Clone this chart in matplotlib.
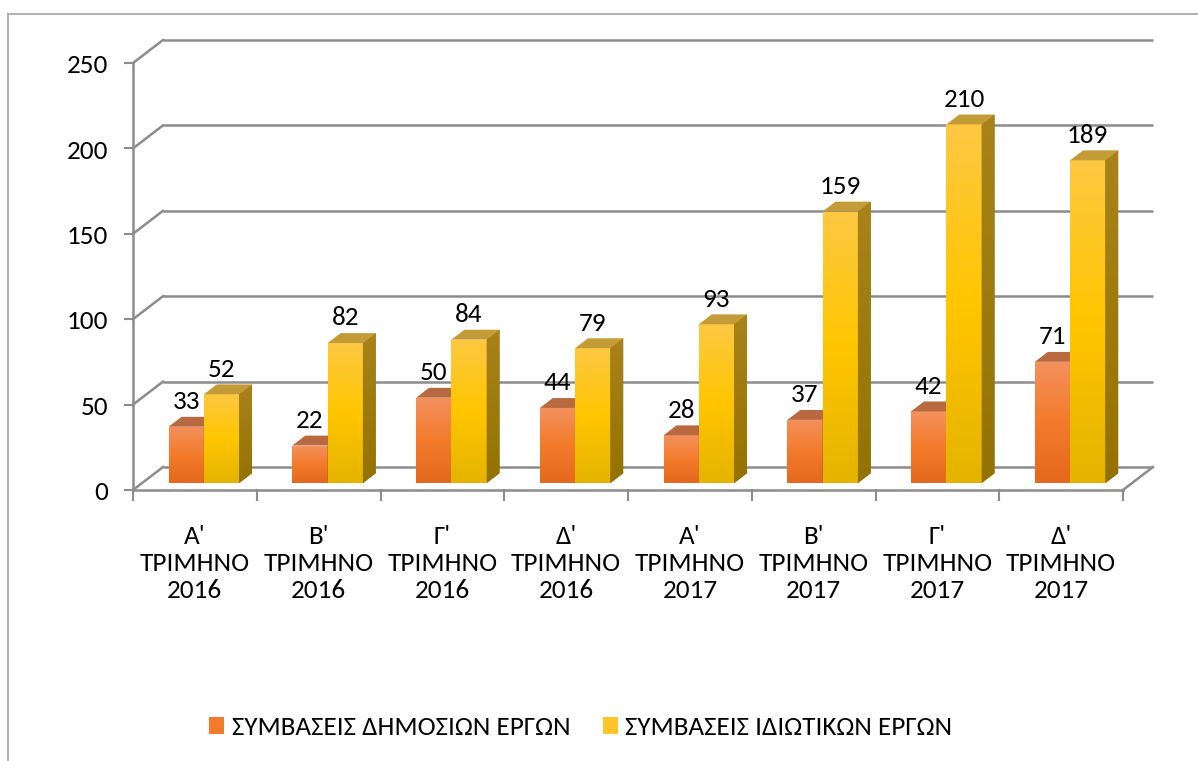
import numpy as np
import matplotlib
matplotlib.use("Agg")
import matplotlib.pyplot as plt
from matplotlib.patches import Polygon, Patch
from matplotlib.colors import LinearSegmentedColormap

# ---------------- data ----------------
categories = ["Α'\nΤΡΙΜΗΝΟ\n2016", "Β'\nΤΡΙΜΗΝΟ\n2016", "Γ'\nΤΡΙΜΗΝΟ\n2016", "Δ'\nΤΡΙΜΗΝΟ\n2016",
              "Α'\nΤΡΙΜΗΝΟ\n2017", "Β'\nΤΡΙΜΗΝΟ\n2017", "Γ'\nΤΡΙΜΗΝΟ\n2017", "Δ'\nΤΡΙΜΗΝΟ\n2017"]
public_works = [33, 22, 50, 44, 28, 37, 42, 71]
private_works = [52, 82, 84, 79, 93, 159, 210, 189]
series_names = ["ΣΥΜΒΑΣΕΙΣ ΔΗΜΟΣΙΩΝ ΕΡΓΩΝ", "ΣΥΜΒΑΣΕΙΣ ΙΔΙΩΤΙΚΩΝ ΕΡΓΩΝ"]
y_ticks = [0, 50, 100, 150, 200, 250]

plt.rcParams['font.family'] = ['Carlito', 'DejaVu Sans']
FS = 19.5

# ---------------- geometry (pixels) ----------------
W, H = 1198, 761
X0, CW = 133.0, 123.75      # x of category origin, px per category
Y0, VS = 490.0, 1.708       # y of value 0 (from top), px per unit
DXP, DYP = 30.0, 23.0       # depth offset in px
ddx, ddy = DXP / CW, DYP / VS
FD, BD = 0.30, 0.73          # bar front / back depth
BW = 0.285                   # bar width in categories

def P(x, v, d):
    return (x + d * ddx, v + d * ddy)

fig = plt.figure(figsize=(W / 100, H / 100), dpi=100)
ax = fig.add_axes([0, 0, 1, 1])
ax.set_axis_off()
XL = (-X0 / CW, (W - X0) / CW)
YL = ((Y0 - H) / VS, Y0 / VS)
ax.set_xlim(*XL)
ax.set_ylim(*YL)
ax.set_autoscale_on(False)

grid_c = '#8c8c8c'
n = len(categories)
top = y_ticks[-1]

# back wall gridlines and left wall diagonals
for t in y_ticks:
    a, b = P(0, t, 1), P(n, t, 1)
    ax.plot([a[0], b[0]], [a[1], b[1]], color=grid_c, lw=1.8, zorder=1, solid_capstyle='butt')
    a, b = P(0, t, 0), P(0, t, 1)
    ax.plot([a[0], b[0]], [a[1], b[1]], color=grid_c, lw=1.8, zorder=1)
# floor right edge
a, b = P(n, 0, 0), P(n, 0, 1)
ax.plot([a[0], b[0]], [a[1], b[1]], color=grid_c, lw=1.8, zorder=1)
# front axes
ax.plot([0, n], [0, 0], color=grid_c, lw=1.8, zorder=1)
ax.plot([0, 0], [0, top], color=grid_c, lw=1.8, zorder=1)
# ticks
for t in y_ticks:
    ax.plot([-8 / CW, 0], [t, t], color=grid_c, lw=1.5, zorder=1)
    ax.text((108 - X0) / CW, t - 6.0, str(t), ha='right', va='baseline', fontsize=FS, color='black')
for i in range(n + 1):
    ax.plot([i, i], [0, -10 / VS], color=grid_c, lw=1.5, zorder=1)
for i, lab in enumerate(categories):
    ax.text(i + 0.5, -108 / VS, lab, ha='center', va='baseline', fontsize=FS,
            linespacing=1.2, color='black', zorder=20)

# colours
front_cmaps = [
    LinearSegmentedColormap.from_list('o', ['#e4681d', '#f47b2b', '#f3915e']),
    LinearSegmentedColormap.from_list('y', ['#e5b300', '#ffc600', '#fdc843']),
]
side_cmaps = [
    LinearSegmentedColormap.from_list('os', ['#9c4a18', '#b45f2c']),
    LinearSegmentedColormap.from_list('ys', ['#947200', '#a9831a']),
]
top_colors = ['#b9693f', '#c39b37']
grad = np.linspace(0, 1, 256).reshape(-1, 1)

z = 3
for i in range(n):
    for s, vals in enumerate([public_works, private_works]):
        v = vals[i]
        x0 = i + 0.5 - BW + s * BW
        fx, fy = P(x0, 0, FD)
        bars = ax.bar(fx, v, width=BW, bottom=fy, align='edge', color=front_cmaps[s](0.5),
                      lw=0, zorder=z)
        rect = bars[0]
        im = ax.imshow(grad, extent=[fx, fx + BW, fy, fy + v], origin='lower', aspect='auto',
                       cmap=front_cmaps[s], zorder=z + 0.1, interpolation='bilinear')
        im.set_clip_path(rect)
        # top face
        topf = Polygon([P(x0, v, FD), P(x0 + BW, v, FD), P(x0 + BW, v, BD), P(x0, v, BD)],
                       closed=True, facecolor=top_colors[s], lw=0, zorder=z + 0.2)
        ax.add_patch(topf)
        # right side face
        side = Polygon([P(x0 + BW, 0, FD), P(x0 + BW, v, FD), P(x0 + BW, v, BD), P(x0 + BW, 0, BD)],
                       closed=True, facecolor=side_cmaps[s](0.5), lw=0, zorder=z + 0.2)
        ax.add_patch(side)
        sx0, sy0 = P(x0 + BW, 0, FD)
        sx1, sy1 = P(x0 + BW, v, BD)
        ims = ax.imshow(grad, extent=[sx0, sx1, sy0, sy1], origin='lower', aspect='auto',
                        cmap=side_cmaps[s], zorder=z + 0.3, interpolation='bilinear')
        ims.set_clip_path(side)
        # value label
        ax.text(fx + BW / 2, fy + v + 10.3, str(v), ha='center', va='baseline',
                fontsize=FS, color='black', zorder=30)
        z += 1

ax.set_xlim(*XL)
ax.set_ylim(*YL)

# outer chart border
fig.add_artist(plt.Line2D([8 / W, 8 / W], [0, 1 - 14 / H], color='#a6a6a6', lw=1.2,
                          transform=fig.transFigure))
fig.add_artist(plt.Line2D([8 / W, 1], [1 - 14 / H, 1 - 14 / H], color='#a6a6a6', lw=1.2,
                          transform=fig.transFigure))

handles = [Patch(facecolor='#f47b2b', lw=0), Patch(facecolor='#fdc52a', lw=0)]
fig.legend(handles, series_names, loc='center', bbox_to_anchor=(581 / W, 1 - 727.5 / H),
           ncol=2, frameon=False, fontsize=FS, handlelength=0.55, handleheight=0.55,
           handletextpad=0.28, columnspacing=1.2, borderpad=0)

fig.savefig('out.png', dpi=100)
